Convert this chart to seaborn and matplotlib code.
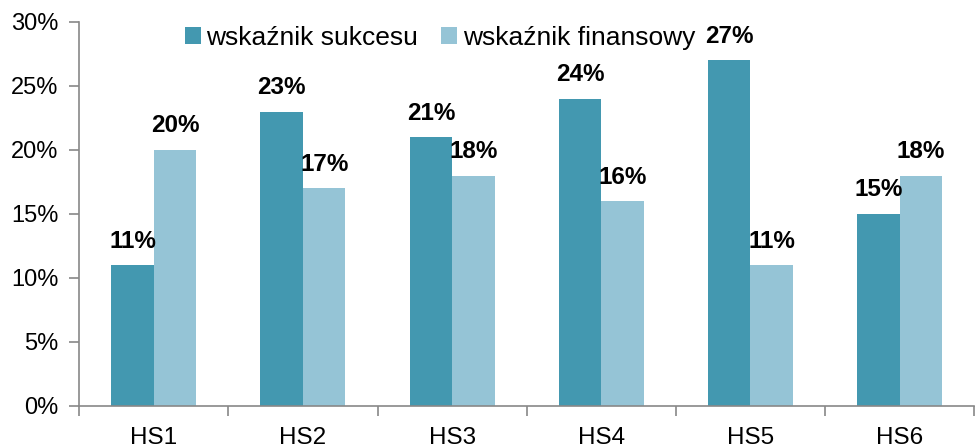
import numpy as np
import pandas as pd
import matplotlib
matplotlib.use("Agg")
import matplotlib.pyplot as plt
from matplotlib.ticker import FixedLocator, PercentFormatter
import seaborn as sns

categories = ["HS1", "HS2", "HS3", "HS4", "HS5", "HS6"]
series_names = ["wskaźnik sukcesu", "wskaźnik finansowy"]
sukces = [11, 23, 21, 24, 27, 15]
finansowy = [20, 17, 18, 16, 11, 18]
colors = ["#4398B0", "#95C4D6"]

df = pd.DataFrame({
    "kategoria": categories * 2,
    "seria": [series_names[0]] * 6 + [series_names[1]] * 6,
    "wartosc": sukces + finansowy,
})

sns.set_style("white")
plt.rcParams["font.family"] = ["Liberation Sans", "DejaVu Sans"]
plt.rcParams["text.color"] = "black"
plt.rcParams["xtick.color"] = "black"
plt.rcParams["ytick.color"] = "black"

fig = plt.figure(figsize=(9.78, 4.48), dpi=100)
ax = fig.add_axes([0.081, 0.094, 0.915, 0.857])

sns.barplot(data=df, x="kategoria", y="wartosc", hue="seria", palette=colors,
            width=0.57, saturation=1, ax=ax, gap=0, linewidth=0)

for cont in ax.containers:
    ax.bar_label(cont, labels=[f"{v:.0f}%" for v in cont.datavalues],
                 padding=9, fontsize=17.5, fontweight="bold", color="black")

ax.set_ylim(0, 30)
ax.set_xlim(-0.5, 5.5)
ax.set_yticks(range(0, 31, 5))
ax.yaxis.set_major_formatter(PercentFormatter(decimals=0))
ax.xaxis.set_minor_locator(FixedLocator(np.arange(-0.5, 6, 1)))
ax.tick_params(axis="x", which="major", bottom=True, length=0, labelsize=17.5, pad=15,
               labelcolor="black")
ax.tick_params(axis="x", which="minor", bottom=True, length=7, color="#888888",
               width=1.2, direction="out")
ax.tick_params(axis="y", left=True, length=7, color="#888888", width=1.2, labelsize=17,
               pad=8, direction="out", labelcolor="black")
ax.set_xlabel("")
ax.set_ylabel("")
for s in ["top", "right"]:
    ax.spines[s].set_visible(False)
for s in ["left", "bottom"]:
    ax.spines[s].set_color("#888888")
    ax.spines[s].set_linewidth(1.2)

ax.legend(loc="center", bbox_to_anchor=(0.403, 0.958), ncol=2, frameon=False,
          fontsize=19, handlelength=0.6, handleheight=0.6, handletextpad=0.2,
          columnspacing=0.9, borderpad=0, borderaxespad=0)

fig.savefig("out.png", dpi=100)
